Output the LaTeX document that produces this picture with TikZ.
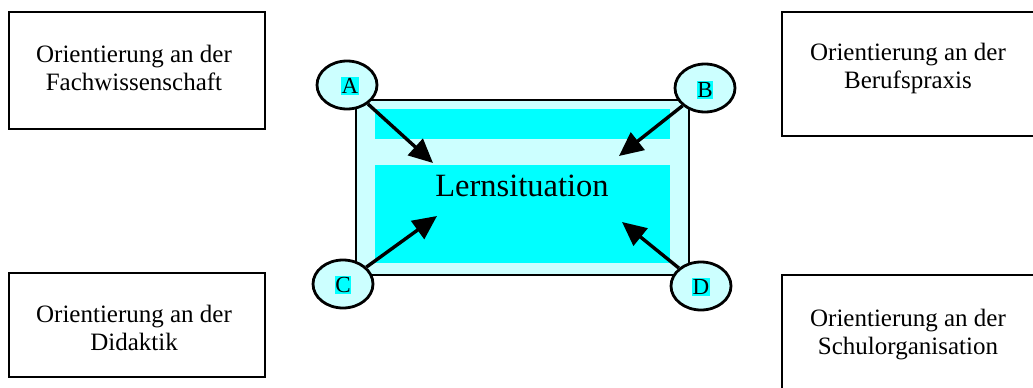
\documentclass[tikz,border=0pt]{standalone}
\usepackage{fontspec}
\setmainfont{Liberation Serif}
\usetikzlibrary{arrows.meta,shapes.geometric}
\definecolor{lcyan}{HTML}{CCFFFF}
\definecolor{cyanf}{HTML}{00FFFF}
\begin{document}
\begin{tikzpicture}[x=1pt,y=-1pt,
  orient/.style={draw=black,line width=2.4pt,fill=white},
  otext/.style={align=center,font=\fontsize{25}{28}\selectfont},
  corner/.style={draw=black,line width=2.8pt,fill=lcyan,ellipse,minimum width=60pt,minimum height=48pt,inner sep=0pt},
  lab/.style={fill=cyanf,inner xsep=0.5pt,inner ysep=1.5pt,font=\fontsize{23}{23}\selectfont},
  arr/.style={line width=3.4pt,-{Triangle[length=24pt,width=22pt]}}]
\useasboundingbox (0,0) rectangle (1033,388);
% outer boxes
\draw[orient] (9,12) rectangle (265,129);
\node[otext] (fw) at (134,68) {Orientierung an der\\Fachwissenschaft};
\draw[orient] (782,12) rectangle (1040,136);
\node[otext] (bp) at (908,68) {Orientierung an der\\Berufspraxis};
\draw[orient] (9,273) rectangle (265,377);
\node[otext] (di) at (134,328) {Orientierung an der\\Didaktik};
\draw[orient] (782,275) rectangle (1040,395);
\node[otext] (so) at (908,335) {Orientierung an der\\Schulorganisation};
% center
\draw[line width=2.6pt,fill=lcyan] (356,100) rectangle (689,275);
\fill[cyanf] (375,109) rectangle (670,139);
\fill[cyanf] (375,165) rectangle (670,263);
\node[font=\fontsize{32.5}{32.5}\selectfont] (ls) at (522,186) {Lernsituation};
% corner ellipses
\node[corner] (A) at (347,85) {};
\node[corner] (B) at (705,88) {};
\node[corner] (C) at (343,284) {};
\node[corner] (D) at (701,286) {};
\node[lab] (la) at (350,86) {A};
\node[lab] (lb) at (705,90) {B};
\node[lab] (lc) at (343,285) {C};
\node[lab] (ld) at (701,287) {D};
\coordinate (tA) at (433,163);
\coordinate (tB) at (619,156);
\coordinate (tC) at (437,216);
\coordinate (tD) at (622,222);
\draw[arr] (A) -- (tA);
\draw[arr] (B) -- (tB);
\draw[arr] (C) -- (tC);
\draw[arr] (D) -- (tD);
\end{tikzpicture}
\end{document}
